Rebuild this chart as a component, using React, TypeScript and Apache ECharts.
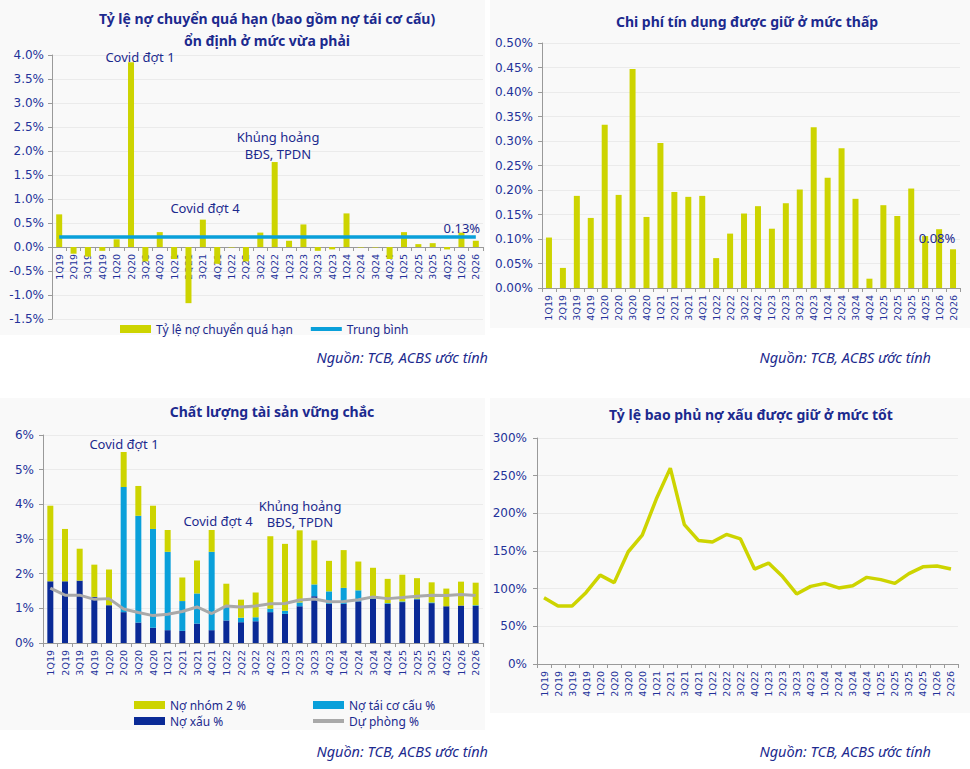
import React, { useEffect, useRef } from "react";
import * as echarts from "echarts";

const categories = [
  "1Q19", "2Q19", "3Q19", "4Q19", "1Q20", "2Q20", "3Q20", "4Q20",
  "1Q21", "2Q21", "3Q21", "4Q21", "1Q22", "2Q22", "3Q22", "4Q22",
  "1Q23", "2Q23", "3Q23", "4Q23", "1Q24", "2Q24", "3Q24", "4Q24",
  "1Q25", "2Q25", "3Q25", "4Q25", "1Q26", "2Q26",
];

// Panel 1: overdue shift ratio (%)
const overdueShift = [
  0.68, -0.14, -0.2, -0.08, 0.16, 3.85, -0.3, 0.31,
  -0.25, -1.17, 0.57, -0.35, -0.01, -0.3, 0.3, 1.77,
  0.13, 0.47, -0.08, -0.05, 0.7, -0.01, -0.01, -0.25,
  0.31, 0.06, 0.08, -0.05, 0.3, 0.13,
];
const overdueAverage = 0.21;

// Panel 2: credit cost (%)
const creditCost = [
  0.103, 0.041, 0.188, 0.143, 0.333, 0.19, 0.447, 0.145,
  0.296, 0.196, 0.186, 0.188, 0.061, 0.111, 0.152, 0.167,
  0.121, 0.173, 0.201, 0.328, 0.225, 0.285, 0.182, 0.019,
  0.169, 0.147, 0.203, 0.106, 0.12, 0.079,
];

// Panel 3: asset quality (%)
const nplRatio = [
  1.78, 1.78, 1.8, 1.33, 1.09, 0.89, 0.59, 0.44,
  0.37, 0.35, 0.56, 0.37, 0.65, 0.6, 0.63, 0.89,
  0.84, 1.06, 1.35, 1.13, 1.13, 1.2, 1.27, 1.13,
  1.18, 1.26, 1.15, 1.06, 1.08, 1.07,
];
const restructuredRatio = [
  0, 0, 0, 0, 0, 3.61, 3.08, 2.85,
  2.26, 0.86, 0.87, 2.26, 0.4, 0.13, 0.11, 0.1,
  0.09, 0.11, 0.34, 0.36, 0.46, 0.32, 0.02, 0.02,
  0.02, 0.02, 0.02, 0, 0, 0.02,
];
const group2Ratio = [
  2.18, 1.51, 0.92, 0.93, 1.03, 1.01, 0.86, 0.67,
  0.63, 0.68, 0.95, 0.63, 0.66, 0.52, 0.72, 2.09,
  1.93, 2.08, 1.27, 0.88, 1.09, 0.83, 0.88, 0.7,
  0.77, 0.59, 0.58, 0.51, 0.69, 0.65,
];
const provisionRatio = [
  1.58, 1.38, 1.38, 1.26, 1.28, 0.98, 0.88, 0.79,
  0.83, 0.91, 1.04, 0.85, 1.07, 1.04, 1.07, 1.13,
  1.14, 1.24, 1.27, 1.19, 1.2, 1.25, 1.33, 1.28,
  1.31, 1.35, 1.38, 1.37, 1.4, 1.37,
];

// Panel 4: NPL coverage ratio (%)
const coverageRatio = [
  88, 77, 77, 95, 118, 108, 149, 171,
  219, 260, 185, 164, 162, 172, 166, 126,
  134, 116, 93, 103, 107, 101, 104, 115,
  112, 107, 120, 129, 130, 126,
];

const NAVY = "#1c2a8e";
const LABEL_BLUE = "#23329a";
const YELLOW = "#cdd400";
const LIGHT_BLUE = "#0aa0da";
const DARK_BLUE = "#0a2a96";
const GREY = "#a9a9a9";
const FONT = "'Noto Sans', sans-serif";
const AXIS_FONT = "'DejaVu Sans', sans-serif";

function valueAxis(gridIndex: number, min: number, max: number, interval: number, margin: number, fmt: (v: number) => string) {
  return {
    type: "value",
    gridIndex,
    min,
    max,
    interval,
    axisLine: { show: true, lineStyle: { color: "#9a9a9a", width: 1 } },
    axisTick: { show: true, length: 4, lineStyle: { color: "#9a9a9a" } },
    splitLine: { show: true, lineStyle: { color: "#ebebeb", width: 1 } },
    axisLabel: {
      color: LABEL_BLUE,
      fontFamily: AXIS_FONT,
      fontSize: 12,
      margin,
      formatter: fmt,
    },
  };
}

function catAxis(gridIndex: number, offset = 0) {
  return {
    type: "category",
    gridIndex,
    data: categories,
    boundaryGap: true,
    position: "bottom",
    offset,
    axisLine: { show: true, onZero: false, lineStyle: { color: "#9a9a9a", width: 1 } },
    axisTick: { show: true, length: 4, alignWithLabel: false, lineStyle: { color: "#9a9a9a" } },
    splitLine: { show: false },
    axisLabel: {
      color: LABEL_BLUE,
      fontFamily: AXIS_FONT,
      fontSize: 9.5,
      rotate: 90,
      interval: 0,
      margin: 7,
      hideOverlap: false,
    },
  };
}

function text(x: number, y: number, t: string, extra: any = {}) {
  return {
    type: "text",
    x,
    y,
    z: 50,
    style: {
      text: t,
      fill: NAVY,
      fontFamily: FONT,
      fontSize: 13,
      align: "center",
      verticalAlign: "middle",
      ...extra,
    },
  };
}

function bg(x: number, y: number, w: number, h: number) {
  return {
    type: "rect",
    z: -100,
    silent: true,
    shape: { x, y, width: w, height: h },
    style: { fill: "#f9f9f9" },
  };
}

// Panel 1 grid geometry and the pixel position of its zero line
const P1_TOP = 55;
const P1_BOTTOM_PX = 319;
const P1_MIN = -1.5;
const P1_MAX = 4;
const P1_ZERO_SHIFT = -Math.round(((P1_BOTTOM_PX - P1_TOP) * (0 - P1_MIN)) / (P1_MAX - P1_MIN));

export default function App() {
  const ref = useRef<HTMLDivElement>(null);

  useEffect(() => {
    document.body.style.margin = "0";
    if (!ref.current) return;
    const chart = echarts.init(ref.current, null, { renderer: "svg" });
    const last = categories.length - 1;

    const lastLabel = (offset: number[], fmt: string) => ({
      show: true,
      position: "top",
      offset,
      formatter: () => fmt,
      color: NAVY,
      fontFamily: FONT,
      fontSize: 13,
    });

    const overdueData = overdueShift.map((v, i) =>
      i === last ? { value: v, label: lastLabel([-14, -1], v.toFixed(2) + "%") } : v
    );
    const creditData = creditCost.map((v, i) =>
      i === last ? { value: v, label: lastLabel([-16, 0], v.toFixed(2) + "%") } : v
    );
    const coverageData = coverageRatio.map((v, i) =>
      i === last ? { value: v, label: lastLabel([-6, -6], v + "%") } : v
    );

    const legendText = { color: NAVY, fontFamily: FONT, fontSize: 12 };
    const hiddenSymbol = { opacity: 0 };

    chart.setOption({
      animation: false,
      backgroundColor: "#ffffff",
      grid: [
        { left: 52, right: 487, top: P1_TOP, bottom: 769 - P1_BOTTOM_PX },
        { left: 542, right: 10, top: 43, bottom: 481 },
        { left: 43, right: 487, top: 435, bottom: 126 },
        { left: 537, right: 12, top: 438, bottom: 105 },
      ],
      xAxis: [catAxis(0, P1_ZERO_SHIFT), catAxis(1), catAxis(2), catAxis(3)],
      yAxis: [
        valueAxis(0, P1_MIN, P1_MAX, 0.5, 8, (v) => v.toFixed(1) + "%"),
        valueAxis(1, 0, 0.5, 0.05, 9, (v) => v.toFixed(2) + "%"),
        valueAxis(2, 0, 6, 1, 9, (v) => Math.round(v) + "%"),
        valueAxis(3, 0, 300, 50, 10, (v) => Math.round(v) + "%"),
      ],
      legend: [
        {
          left: 115,
          top: 318,
          itemWidth: 31,
          itemHeight: 8,
          itemGap: 16,
          textStyle: legendText,
          data: [
            { name: "Tỷ lệ nợ chuyển quá hạn", icon: "rect" },
            { name: "Trung bình", itemStyle: hiddenSymbol, lineStyle: { width: 4 } },
          ],
        },
        {
          left: 129,
          top: 694,
          orient: "vertical",
          itemWidth: 31,
          itemHeight: 8,
          itemGap: 4,
          textStyle: legendText,
          data: [
            { name: "Nợ nhóm 2 %", icon: "rect" },
            { name: "Nợ xấu %", icon: "rect" },
          ],
        },
        {
          left: 306,
          top: 694,
          orient: "vertical",
          itemWidth: 31,
          itemHeight: 8,
          itemGap: 4,
          textStyle: legendText,
          data: [
            { name: "Nợ tái cơ cấu %", icon: "rect" },
            { name: "Dự phòng %", itemStyle: hiddenSymbol, lineStyle: { width: 4 } },
          ],
        },
      ],
      series: [
        {
          name: "Tỷ lệ nợ chuyển quá hạn",
          type: "bar",
          xAxisIndex: 0,
          yAxisIndex: 0,
          barWidth: 6,
          itemStyle: { color: YELLOW },
          data: overdueData,
        },
        {
          name: "Trung bình",
          type: "line",
          xAxisIndex: 0,
          yAxisIndex: 0,
          symbol: "none",
          lineStyle: { color: LIGHT_BLUE, width: 3.5 },
          itemStyle: { color: LIGHT_BLUE },
          data: categories.map(() => overdueAverage),
          z: 5,
        },
        {
          name: "Chi phí tín dụng",
          type: "bar",
          xAxisIndex: 1,
          yAxisIndex: 1,
          barWidth: 6,
          itemStyle: { color: YELLOW },
          data: creditData,
        },
        {
          name: "Nợ xấu %",
          type: "bar",
          stack: "aq",
          xAxisIndex: 2,
          yAxisIndex: 2,
          barWidth: 6,
          itemStyle: { color: DARK_BLUE },
          data: nplRatio,
        },
        {
          name: "Nợ tái cơ cấu %",
          type: "bar",
          stack: "aq",
          xAxisIndex: 2,
          yAxisIndex: 2,
          barWidth: 6,
          itemStyle: { color: LIGHT_BLUE },
          data: restructuredRatio,
        },
        {
          name: "Nợ nhóm 2 %",
          type: "bar",
          stack: "aq",
          xAxisIndex: 2,
          yAxisIndex: 2,
          barWidth: 6,
          itemStyle: { color: YELLOW },
          data: group2Ratio,
        },
        {
          name: "Dự phòng %",
          type: "line",
          xAxisIndex: 2,
          yAxisIndex: 2,
          symbol: "none",
          lineStyle: { color: GREY, width: 3 },
          itemStyle: { color: GREY },
          data: provisionRatio,
          z: 5,
        },
        {
          name: "Tỷ lệ bao phủ nợ xấu",
          type: "line",
          xAxisIndex: 3,
          yAxisIndex: 3,
          symbol: "none",
          lineStyle: { color: YELLOW, width: 3.5 },
          itemStyle: { color: YELLOW },
          data: coverageData,
        },
      ],
      graphic: [
        bg(0, 0, 485, 335),
        bg(490, 0, 480, 328),
        bg(0, 398, 485, 332),
        bg(490, 398, 480, 315),
        text(267, 18, "Tỷ lệ nợ chuyển quá hạn (bao gồm nợ tái cơ cấu)", { fontSize: 14, fontWeight: "bold" }),
        text(267, 40, "ổn định ở mức vừa phải", { fontSize: 14, fontWeight: "bold" }),
        text(747, 21, "Chi phí tín dụng được giữ ở mức thấp", { fontSize: 14, fontWeight: "bold" }),
        text(272, 411, "Chất lượng tài sản vững chắc", { fontSize: 14, fontWeight: "bold" }),
        text(751, 414, "Tỷ lệ bao phủ nợ xấu được giữ ở mức tốt", { fontSize: 14, fontWeight: "bold" }),
        text(140, 57, "Covid đợt 1"),
        text(278, 145.5, "Khủng hoảng\nBĐS, TPDN", { lineHeight: 16.5 }),
        text(205, 208, "Covid đợt 4"),
        text(124, 444, "Covid đợt 1"),
        text(218, 521, "Covid đợt 4"),
        text(300, 514, "Khủng hoảng\nBĐS, TPDN", { lineHeight: 16.5 }),
        text(488, 357, "Nguồn: TCB, ACBS ước tính", { align: "right", fontStyle: "italic", fontSize: 14.5 }),
        text(931, 357, "Nguồn: TCB, ACBS ước tính", { align: "right", fontStyle: "italic", fontSize: 14.5 }),
        text(488, 751, "Nguồn: TCB, ACBS ước tính", { align: "right", fontStyle: "italic", fontSize: 14.5 }),
        text(931, 751, "Nguồn: TCB, ACBS ước tính", { align: "right", fontStyle: "italic", fontSize: 14.5 }),
      ],
    });

    return () => {
      chart.dispose();
    };
  }, []);

  return <div ref={ref} style={{ width: 970, height: 769 }} />;
}
